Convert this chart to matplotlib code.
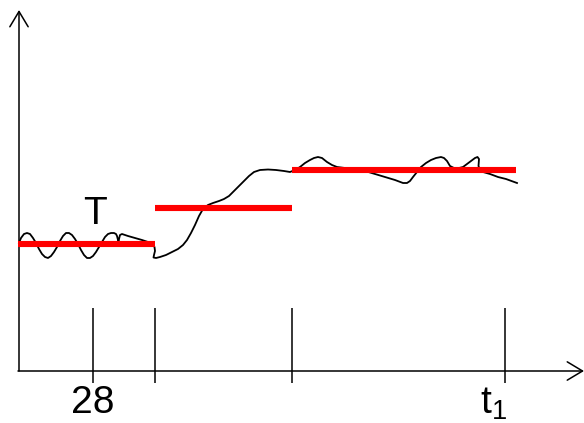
import matplotlib
matplotlib.use("Agg")
import matplotlib.pyplot as plt

plt.rcParams['font.family'] = ['Liberation Sans', 'DejaVu Sans']
plt.rcParams['mathtext.fontset'] = 'custom'
plt.rcParams['mathtext.rm'] = 'Liberation Sans'
plt.rcParams['mathtext.it'] = 'Liberation Sans'

# drawing is laid out in pixel units of the 584x423 picture (y downwards)
curve_x = [19, 21, 24, 27, 30, 33, 36, 39, 42, 45, 48, 51, 54, 57, 60, 63, 66, 69, 72,
           75, 78, 81, 84, 87, 90, 93, 96, 99, 102, 105, 108, 111, 114, 116, 117, 118,
           118.5, 119, 120, 122, 128, 135, 142, 148, 152, 154.5, 155, 154, 153.5, 156,
           160, 166, 172, 178, 183, 187, 191, 195, 199, 203, 208, 213, 219, 224, 229,
           234, 239, 244, 249, 254, 260, 268, 276, 284, 290, 295, 300, 305, 310, 314,
           318, 322, 327, 332, 337, 345, 355, 365, 375, 385, 395, 403, 407, 410, 413,
           417, 421, 426, 431, 436, 441, 444, 447, 450, 454, 459, 463, 467, 471, 475,
           477.5, 479, 478.5, 480, 483, 490, 498, 506, 517]
curve_y = [243, 238, 234, 233, 234, 238, 243, 249, 254, 257, 258, 256, 252, 247, 241,
           236, 233, 233, 235, 239, 244, 250, 255, 258, 258, 256, 252, 247, 242, 237,
           234, 233, 233, 234, 236, 240, 243, 239, 235, 234, 236, 238, 240, 242, 244,
           247, 251, 255, 257.5, 258, 257, 255, 252, 249, 245, 240, 233, 225, 216, 209,
           205, 203, 201, 199, 196, 191, 186, 181, 176, 172, 170, 169.5, 170, 171, 172,
           170, 167, 163, 160, 158, 157, 158, 162, 165, 167, 168, 169, 171, 174, 177,
           180, 183, 183, 181, 177, 172, 167, 163, 160, 158, 157, 158, 161, 166, 168,
           168, 167, 164, 161, 158, 157, 159, 166, 170, 172, 174, 177, 179, 183]

# red step levels
step_start = [18, 155, 292]
step_end = [155, 292, 516]
step_level = [244, 208.5, 170.5]

# vertical marks and labels
mark_x = [93, 155, 292, 505]

fig = plt.figure(figsize=(5.84, 4.23), dpi=100)
ax = fig.add_axes([0, 0, 1, 1])
ax.set_xlim(0, 584)
ax.set_ylim(423, 0)
ax.axis('off')

# axes with open arrowheads
arrow = dict(arrowstyle='->,head_length=0.55,head_width=0.33',
             lw=1.1, color='black', mutation_scale=20, shrinkA=0, shrinkB=0)
ax.annotate('', xy=(19, 10), xytext=(19, 371), arrowprops=arrow,
            annotation_clip=False)
ax.annotate('', xy=(584, 371), xytext=(18, 371), arrowprops=arrow,
            annotation_clip=False)

ax.vlines(mark_x, 308, 383, color='black', lw=1.1)

ax.plot(curve_x, curve_y, color='black', lw=1.3, zorder=3,
        solid_joinstyle='round')
ax.hlines(step_level, step_start, step_end, color='#ff0000', lw=4.4, zorder=4)

ax.text(93, 403, '28', fontsize=28, ha='center', va='center')
ax.text(95.5, 214.5, 'T', fontsize=28, ha='center', va='center')
ax.text(494, 404, r'$\mathrm{t}_1$', fontsize=28, ha='center', va='center')

fig.savefig('out.png', dpi=100)
